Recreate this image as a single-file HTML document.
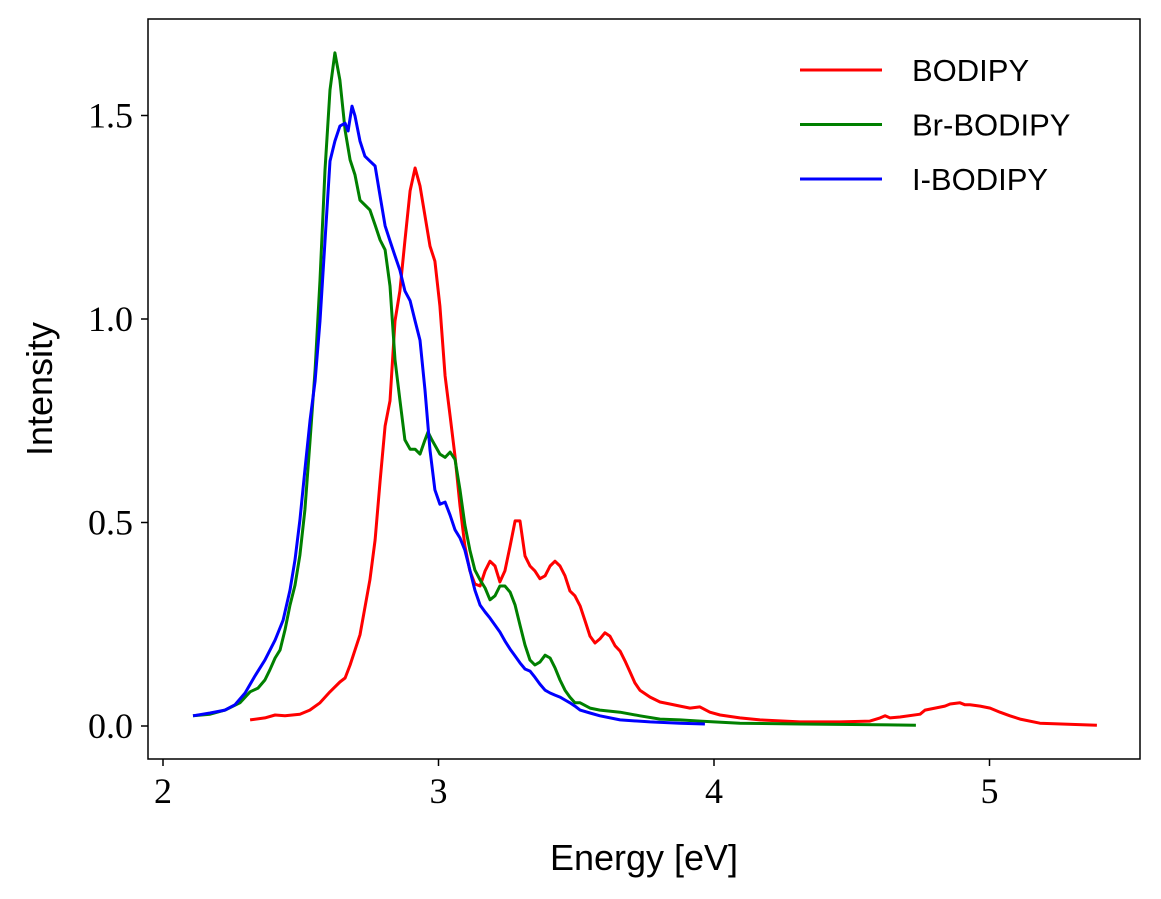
<!DOCTYPE html>
<html><head><meta charset="utf-8">
<style>
html,body{margin:0;padding:0;background:#fff;}
svg{display:block;}
.tick{font-family:"Liberation Serif",serif;font-size:36px;fill:#000;}
.lab{font-family:"Liberation Sans",sans-serif;font-size:36px;fill:#000;}
.leg{font-family:"Liberation Sans",sans-serif;font-size:31px;fill:#000;}
</style></head>
<body>
<svg id="chart" width="1161" height="899" viewBox="0 0 1161 899">
<rect x="148" y="19" width="992" height="740" fill="#fff" stroke="#000" stroke-width="1.5"/>
<g id="series"></g>
<g id="xticks"></g>
<g id="yticks"></g>
<text class="lab" x="644" y="870" text-anchor="middle">Energy [eV]</text>
<text class="lab" x="0" y="0" text-anchor="middle" transform="translate(52,389) rotate(-90)">Intensity</text>
<g id="legend"></g>
</svg>
<script>
const xTicks=[2,3,4,5];
const yTicks=[0.0,0.5,1.0,1.5];
const seriesNames=["BODIPY","Br-BODIPY","I-BODIPY"];
const seriesColors=["#ff0000","#008000","#0000ff"];
const bodipyE=[2.316,2.370,2.407,2.443,2.497,2.533,2.570,2.606,2.642,2.661,2.679,2.715,2.751,2.770,2.788,2.806,2.824,2.842,2.860,2.878,2.897,2.915,2.933,2.951,2.969,2.987,3.005,3.024,3.042,3.060,3.078,3.096,3.114,3.132,3.151,3.169,3.187,3.205,3.223,3.241,3.260,3.278,3.296,3.314,3.332,3.350,3.368,3.387,3.405,3.423,3.441,3.459,3.477,3.495,3.514,3.532,3.550,3.568,3.586,3.604,3.622,3.641,3.659,3.677,3.695,3.713,3.731,3.768,3.804,3.840,3.877,3.913,3.949,3.985,4.022,4.094,4.167,4.312,4.457,4.566,4.603,4.621,4.639,4.675,4.748,4.766,4.802,4.838,4.857,4.893,4.911,4.929,4.966,5.002,5.038,5.074,5.111,5.183,5.390];
const bodipyI=[0.015,0.020,0.027,0.025,0.029,0.039,0.057,0.084,0.108,0.118,0.150,0.224,0.359,0.457,0.602,0.737,0.799,0.995,1.069,1.192,1.315,1.371,1.327,1.253,1.179,1.142,1.032,0.860,0.762,0.663,0.541,0.442,0.381,0.349,0.344,0.381,0.405,0.393,0.354,0.381,0.442,0.504,0.504,0.418,0.393,0.381,0.362,0.369,0.393,0.405,0.393,0.369,0.332,0.320,0.295,0.258,0.221,0.204,0.214,0.229,0.221,0.197,0.184,0.160,0.133,0.106,0.088,0.071,0.059,0.054,0.049,0.044,0.047,0.034,0.027,0.020,0.015,0.010,0.010,0.012,0.020,0.025,0.020,0.022,0.029,0.039,0.044,0.049,0.054,0.057,0.052,0.052,0.049,0.044,0.034,0.025,0.017,0.007,0.002];
const brE=[2.109,2.171,2.225,2.279,2.316,2.345,2.370,2.388,2.407,2.425,2.443,2.461,2.479,2.497,2.515,2.534,2.552,2.570,2.588,2.606,2.624,2.642,2.661,2.679,2.697,2.715,2.733,2.751,2.770,2.788,2.806,2.824,2.842,2.860,2.878,2.897,2.915,2.933,2.951,2.962,2.976,3.005,3.024,3.042,3.060,3.078,3.096,3.114,3.132,3.151,3.169,3.187,3.205,3.223,3.241,3.260,3.278,3.296,3.314,3.332,3.350,3.368,3.387,3.405,3.423,3.441,3.459,3.477,3.495,3.514,3.550,3.586,3.659,3.731,3.804,3.877,3.949,4.094,4.312,4.733];
const brI=[0.025,0.029,0.039,0.057,0.084,0.093,0.113,0.138,0.167,0.187,0.236,0.297,0.346,0.420,0.531,0.703,0.875,1.096,1.366,1.563,1.654,1.587,1.464,1.391,1.354,1.292,1.280,1.268,1.231,1.194,1.170,1.081,0.900,0.801,0.703,0.680,0.680,0.668,0.703,0.722,0.703,0.668,0.660,0.673,0.655,0.580,0.494,0.432,0.383,0.359,0.339,0.310,0.320,0.344,0.344,0.329,0.297,0.248,0.199,0.162,0.150,0.157,0.174,0.167,0.143,0.113,0.088,0.071,0.057,0.057,0.044,0.039,0.034,0.025,0.017,0.015,0.012,0.007,0.005,0.002];
const iE=[2.109,2.171,2.225,2.261,2.298,2.334,2.370,2.407,2.436,2.461,2.479,2.497,2.515,2.534,2.552,2.570,2.588,2.606,2.624,2.642,2.661,2.672,2.686,2.697,2.715,2.733,2.751,2.770,2.788,2.806,2.824,2.842,2.860,2.878,2.897,2.915,2.933,2.951,2.969,2.987,3.005,3.024,3.042,3.060,3.078,3.096,3.114,3.132,3.151,3.169,3.187,3.205,3.223,3.241,3.260,3.278,3.296,3.314,3.332,3.350,3.368,3.387,3.405,3.423,3.441,3.459,3.477,3.495,3.514,3.550,3.586,3.659,3.768,3.877,3.967];
const iI=[0.025,0.032,0.039,0.052,0.081,0.123,0.162,0.211,0.260,0.334,0.408,0.506,0.629,0.752,0.848,0.995,1.192,1.388,1.437,1.474,1.481,1.462,1.523,1.499,1.437,1.400,1.388,1.376,1.302,1.229,1.192,1.155,1.120,1.069,1.045,0.995,0.948,0.825,0.678,0.580,0.545,0.550,0.518,0.482,0.462,0.432,0.383,0.334,0.297,0.280,0.265,0.248,0.231,0.209,0.189,0.172,0.155,0.140,0.135,0.120,0.103,0.088,0.081,0.076,0.071,0.064,0.057,0.049,0.039,0.032,0.025,0.015,0.010,0.007,0.005];

const NS="http://www.w3.org/2000/svg";
function xs(v){return 163+(v-2)*275.5;}
function ys(v){return 726-v*407;}
function mk(tag,attrs,parent){const e=document.createElementNS(NS,tag);for(const k in attrs)e.setAttribute(k,attrs[k]);parent.appendChild(e);return e;}

const sg=document.getElementById('series');
const data=[[bodipyE,bodipyI],[brE,brI],[iE,iI]];
const keys=["bodipy","br-bodipy","i-bodipy"];
data.forEach((d,k)=>{
  const pts=d[0].map((e,i)=>xs(e).toFixed(1)+","+ys(d[1][i]).toFixed(1)).join(" ");
  const pl=mk('polyline',{points:pts,fill:"none",stroke:seriesColors[k],"stroke-width":"3","stroke-linejoin":"round"},sg);
  
  
});

const xg=document.getElementById('xticks');
xTicks.forEach(t=>{
  const ln=mk('line',{x1:xs(t),x2:xs(t),y1:759,y2:766,stroke:"#000","stroke-width":"1.5"},xg);
  
  
  const tx=mk('text',{x:xs(t),y:803,"text-anchor":"middle",class:"tick"},xg);
  tx.textContent=String(t);
  
  
});
const yg=document.getElementById('yticks');
yTicks.forEach(t=>{
  const ln=mk('line',{x1:141,x2:148,y1:ys(t),y2:ys(t),stroke:"#000","stroke-width":"1.5"},yg);
  
  
  const tx=mk('text',{x:133,y:ys(t)+12,"text-anchor":"end",class:"tick"},yg);
  tx.textContent=t.toFixed(1);
  
  
});

const lg=document.getElementById('legend');
seriesNames.forEach((n,k)=>{
  const y=70+k*54.5;
  const ln=mk('line',{x1:800,x2:882,y1:y,y2:y,stroke:seriesColors[k],"stroke-width":"3"},lg);
  
  
  const tx=mk('text',{x:912,y:y+11,class:"leg"},lg);
  tx.textContent=n;
  
  
});
</script>
</body></html>
